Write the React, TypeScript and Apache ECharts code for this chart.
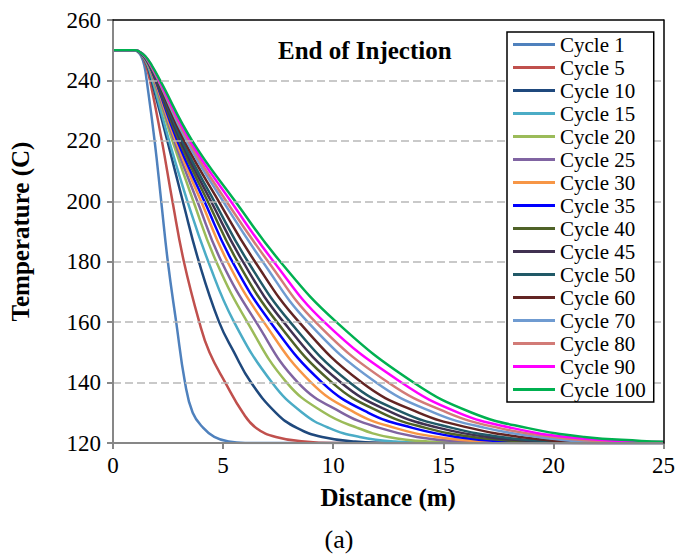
import React, { useEffect, useRef } from "react";
import * as echarts from "echarts";

const cycleNames = [
  "Cycle 1", "Cycle 5", "Cycle 10", "Cycle 15", "Cycle 20", "Cycle 25", "Cycle 30", "Cycle 35",
  "Cycle 40", "Cycle 45", "Cycle 50", "Cycle 60", "Cycle 70", "Cycle 80", "Cycle 90", "Cycle 100",
];

const cycleColors = [
  "#4f81bd", "#c0504d", "#1f497d", "#4bacc6", "#9bbb59", "#8064a2", "#f79646", "#0000ff",
  "#4f6228", "#403151", "#215967", "#632523", "#6f9bd1", "#d27b77", "#ff00ff", "#00b050",
];

// [distance (m), temperature (C)]
const cycle1 = [[0, 250], [1.0, 250], [1.12, 249.5], [1.28, 248], [1.42, 245], [1.53, 240], [1.89, 220], [2.19, 200], [2.49, 180], [2.87, 160], [3.27, 140], [3.62, 130], [4.1, 125], [4.6, 122], [5.25, 120.5], [6.0, 120], [25, 120]];
const cycle5 = [[0, 250], [1.0, 250], [1.15, 249.5], [1.33, 248], [1.5, 245], [1.68, 240], [2.22, 220], [2.7, 200], [3.22, 180], [3.92, 160], [4.38, 150], [5.1, 140], [5.9, 130], [6.5, 125], [7.4, 122], [8.7, 120.5], [10, 120], [25, 120]];
const cycle10 = [[0, 250], [1.0, 250], [1.15, 249.5], [1.35, 248], [1.55, 245], [1.75, 240], [2.47, 220], [3.17, 200], [3.9, 180], [4.82, 160], [5.5, 150], [6.27, 140], [7.4, 130], [8.35, 125], [9.5, 122], [11, 120.5], [13, 120], [25, 120]];
const cycle15 = [[0, 250], [1.0, 250], [1.16, 249.5], [1.36, 248], [1.58, 245], [1.8, 240], [2.55, 220], [3.38, 200], [4.33, 180], [5.5, 160], [7.22, 140], [8.6, 130], [9.8, 125], [11.2, 122], [12.8, 120.5], [15, 120], [25, 120]];
const cycle20 = [[0, 250], [1.0, 250], [1.16, 249.5], [1.37, 248], [1.6, 245], [1.84, 240], [2.7, 220], [3.65, 200], [4.69, 180], [6.1, 160], [7.89, 140], [9.6, 130], [11.1, 125], [12.5, 122], [14.3, 120.5], [17, 120], [25, 120]];
const cycle25 = [[0, 250], [1.0, 250], [1.17, 249.5], [1.38, 248], [1.62, 245], [1.87, 240], [2.78, 220], [3.83, 200], [4.93, 180], [6.5, 160], [8.4, 140], [10.4, 130], [12.1, 125], [13.8, 122], [15.8, 120.5], [18, 120], [25, 120]];
const cycle30 = [[0, 250], [1.0, 250], [1.17, 249.5], [1.39, 248], [1.63, 245], [1.9, 240], [2.85, 220], [4.0, 200], [5.2, 180], [6.85, 160], [9.0, 140], [11.0, 130], [12.8, 125], [14.7, 122], [16.8, 120.5], [19, 120], [25, 120]];
const cycle35 = [[0, 250], [1.0, 250], [1.17, 249.5], [1.4, 248], [1.65, 245], [1.93, 240], [2.92, 220], [4.15, 200], [5.42, 180], [7.15, 160], [9.5, 140], [11.6, 130], [13.6, 125], [15.6, 122], [17.8, 120.5], [20, 120], [25, 120]];
const cycle40 = [[0, 250], [1.0, 250], [1.18, 249.5], [1.41, 248], [1.66, 245], [1.95, 240], [3.0, 220], [4.3, 200], [5.66, 180], [7.45, 160], [9.95, 140], [12.2, 130], [14.2, 125], [16.3, 122], [18.6, 120.5], [21, 120], [25, 120]];
const cycle45 = [[0, 250], [1.0, 250], [1.18, 249.5], [1.42, 248], [1.67, 245], [1.97, 240], [3.07, 220], [4.45, 200], [5.9, 180], [7.75, 160], [10.35, 140], [12.7, 130], [14.8, 125], [17.0, 122], [19.3, 120.5], [22, 120], [25, 120]];
const cycle50 = [[0, 250], [1.0, 250], [1.18, 249.5], [1.42, 248], [1.68, 245], [2.0, 240], [3.14, 220], [4.6, 200], [6.13, 180], [8.05, 160], [10.75, 140], [13.2, 130], [15.4, 125], [17.6, 122], [20.0, 120.5], [23, 120], [25, 120]];
const cycle60 = [[0, 250], [1.0, 250], [1.19, 249.5], [1.43, 248], [1.7, 245], [2.03, 240], [3.24, 220], [4.8, 200], [6.45, 180], [8.45, 160], [11.3, 140], [13.9, 130], [16.2, 125], [18.5, 122], [21.0, 120.5], [25, 120.2]];
const cycle70 = [[0, 250], [1.0, 250], [1.19, 249.5], [1.44, 248], [1.71, 245], [2.06, 240], [3.34, 220], [5.0, 200], [6.8, 180], [8.85, 160], [11.95, 140], [14.6, 130], [16.9, 125], [19.3, 122], [21.8, 120.5], [25, 120.2]];
const cycle80 = [[0, 250], [1.0, 250], [1.2, 249.5], [1.45, 248], [1.72, 245], [2.08, 240], [3.42, 220], [5.15, 200], [7.05, 180], [9.2, 160], [12.5, 140], [15.2, 130], [17.5, 125], [20.0, 122], [22.6, 120.5], [25, 120.3]];
const cycle90 = [[0, 250], [1.0, 250], [1.2, 249.5], [1.46, 248], [1.74, 245], [2.1, 240], [3.5, 220], [5.35, 200], [7.3, 180], [9.6, 160], [13.1, 140], [15.7, 130], [18.1, 125], [20.6, 122], [23.3, 120.6], [25, 120.3]];
const cycle100 = [[0, 250], [1.0, 250], [1.2, 249.5], [1.47, 248], [1.76, 245], [2.14, 240], [3.6, 220], [5.55, 200], [7.6, 180], [10.15, 160], [13.65, 140], [16.3, 130], [18.8, 125], [21.4, 122], [24.0, 120.7], [25, 120.4]];

const cycleData = [
  cycle1, cycle5, cycle10, cycle15, cycle20, cycle25, cycle30, cycle35,
  cycle40, cycle45, cycle50, cycle60, cycle70, cycle80, cycle90, cycle100,
];

const xTicks = { min: 0, max: 25, interval: 5 };
const yTicks = { min: 120, max: 260, interval: 20 };

const chartTitle = "End of Injection";
const xName = "Distance (m)";
const yName = "Temperature (C)";
const caption = "(a)";

const FONT = "'Liberation Serif', 'Times New Roman', serif";

export default function App() {
  const ref = useRef<HTMLDivElement>(null);

  useEffect(() => {
    if (!ref.current) return;
    const chart = echarts.init(ref.current, undefined, { renderer: "svg" });
    const axisGray = "#878787";
    const option: any = {
      animation: false,
      backgroundColor: "#ffffff",
      grid: { left: 105, right: 13, top: 20, bottom: 111, show: false },
      title: {
        text: chartTitle,
        left: 273,
        top: 33,
        textStyle: { fontFamily: FONT, fontWeight: "bold", fontSize: 25, color: "#000" },
      },
      legend: {
        orient: "vertical",
        left: 507,
        top: 32,
        padding: [2, 8, 2, 6],
        borderColor: "#000",
        borderWidth: 1.5,
        backgroundColor: "#fff",
        itemWidth: 42,
        itemHeight: 3,
        itemGap: 2,
        icon: "rect",
        data: cycleNames,
        textStyle: { fontFamily: FONT, fontSize: 21, color: "#000", lineHeight: 21 },
      },
      xAxis: [
        {
          type: "value",
          min: xTicks.min,
          max: xTicks.max,
          interval: xTicks.interval,
          name: xName,
          nameLocation: "middle",
          nameGap: 42,
          nameTextStyle: { fontFamily: FONT, fontWeight: "bold", fontSize: 25, color: "#000" },
          axisLine: { show: true, onZero: false, lineStyle: { color: axisGray, width: 2 } },
          axisTick: { show: true, length: 6, lineStyle: { color: axisGray, width: 2 } },
          axisLabel: { margin: 11, fontFamily: FONT, fontSize: 23, color: "#000" },
          splitLine: { show: false },
          z: 3,
        },
        {
          type: "value",
          position: "top",
          min: xTicks.min,
          max: xTicks.max,
          axisLine: { show: true, onZero: false, lineStyle: { color: "#000", width: 1.5 } },
          axisTick: { show: false },
          axisLabel: { show: false },
          splitLine: { show: false },
          z: 4,
        },
      ],
      yAxis: [
        {
          type: "value",
          min: yTicks.min,
          max: yTicks.max,
          interval: yTicks.interval,
          name: yName,
          nameLocation: "middle",
          nameGap: 80,
          nameTextStyle: { fontFamily: FONT, fontWeight: "bold", fontSize: 25, color: "#000" },
          axisLine: { show: true, onZero: false, lineStyle: { color: axisGray, width: 2 } },
          axisTick: { show: true, length: 6, lineStyle: { color: axisGray, width: 2 } },
          axisLabel: { margin: 12, fontFamily: FONT, fontSize: 23, color: "#000" },
          splitLine: {
            show: true,
            showMinLine: false,
            showMaxLine: false,
            lineStyle: { color: "#b8b8b8", width: 1.5, type: [8, 4] },
          },
          z: 3,
        },
        {
          type: "value",
          position: "right",
          min: yTicks.min,
          max: yTicks.max,
          axisLine: { show: true, onZero: false, lineStyle: { color: "#000", width: 1.5 } },
          axisTick: { show: false },
          axisLabel: { show: false },
          splitLine: { show: false },
          z: 4,
        },
      ],
      graphic: [
        {
          type: "text",
          left: "center",
          top: 526,
          style: { text: caption, fontFamily: FONT, fontSize: 26, fill: "#000" },
        },
      ],
      series: cycleNames.map((name, i) => ({
        name,
        type: "line",
        xAxisIndex: 0,
        yAxisIndex: 0,
        data: cycleData[i],
        showSymbol: false,
        symbol: "none",
        smooth: 0.45,
        color: cycleColors[i],
        lineStyle: { width: 2.5, color: cycleColors[i] },
        z: 2,
      })),
    };
    chart.setOption(option);
    return () => chart.dispose();
  }, []);

  return (
    <div
      ref={ref}
      style={{ position: "fixed", left: 0, top: 0, width: 678, height: 554, background: "#fff" }}
    />
  );
}
